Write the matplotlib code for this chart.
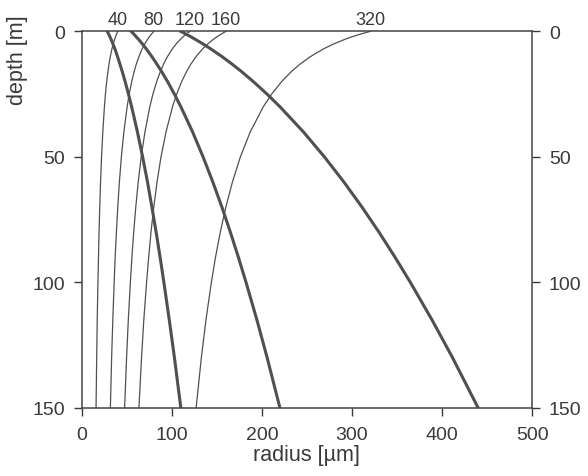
import matplotlib
matplotlib.use("Agg")
import matplotlib.pyplot as plt

plt.rcParams['font.family'] = ['Liberation Sans', 'DejaVu Sans']

depth = [0, 1, 2, 3, 5, 7, 10, 13, 16, 20, 25, 30, 40, 50, 60, 70, 80, 90, 100, 115, 130, 150]

# thin curves: radius [um] starting at 40, 80, 120, 160, 320 at the surface
r40 = [40, 38.7, 37.6, 36.7, 34.9, 33.5, 31.7, 30.3, 29.1, 27.7, 26.3, 25.2, 23.4, 22.0, 20.9, 20.0, 19.2, 18.6, 18.0, 17.2, 16.6, 15.9]
r80 = [80, 77.5, 75.3, 73.3, 69.9, 67.0, 63.5, 60.6, 58.2, 55.5, 52.7, 50.4, 46.8, 44.0, 41.8, 40.0, 38.5, 37.1, 36.0, 34.5, 33.2, 31.8]
r120 = [120, 116.2, 112.9, 110.0, 104.8, 100.5, 95.2, 90.9, 87.3, 83.2, 79.0, 75.6, 70.2, 66.0, 62.7, 60.0, 57.7, 55.7, 54.0, 51.7, 49.8, 47.6]
r160 = [160, 155.0, 150.6, 146.6, 139.8, 134.1, 127.0, 121.2, 116.4, 110.9, 105.4, 100.8, 93.6, 88.0, 83.6, 80.0, 76.9, 74.3, 72.0, 68.9, 66.4, 63.5]
r320 = [320, 310.0, 301.1, 293.2, 279.6, 268.1, 254.0, 242.4, 232.7, 221.9, 210.8, 201.6, 187.1, 176.1, 167.3, 160.0, 153.8, 148.5, 143.9, 137.9, 132.8, 127.0]
thin_curves = [r40, r80, r120, r160, r320]
thin_labels = ["40", "80", "120", "160", "320"]
thin_start = [40, 80, 120, 160, 320]

# thick curves: radius [um] growing with depth
g1 = [28.5, 29.8, 31.1, 32.4, 34.7, 36.9, 39.7, 42.4, 45.0, 48.2, 51.9, 55.4, 61.8, 67.6, 73.0, 77.9, 82.6, 87.0, 91.2, 97.2, 102.9, 110]
g2 = [55, 57.7, 60.2, 62.7, 67.4, 71.7, 77.8, 83.4, 88.7, 95.3, 102.9, 110, 123.0, 134.7, 145.5, 155.6, 165, 173.9, 182.4, 194.5, 205.8, 220]
g3 = [110, 115.4, 120.5, 125.4, 134.7, 143.4, 155.6, 166.8, 177.4, 190.5, 205.8, 220, 246.0, 269.4, 291.0, 311.1, 330, 347.8, 364.8, 388.9, 411.6, 440]
thick_curves = [g1, g2, g3]

xticks = [0, 100, 200, 300, 400, 500]
yticks = [0, 50, 100, 150]

col = '#505050'
txt = '#3a3a3a'

fig = plt.figure(figsize=(5.88, 4.77), dpi=100)
ax = fig.add_axes([0.139, 0.143, 0.766, 0.789])

for r in thin_curves:
    ax.plot(r, depth, color=col, lw=0.9)
for r in thick_curves:
    ax.plot(r, depth, color=col, lw=2.2)

for lab, x0 in zip(thin_labels, thin_start):
    ax.annotate(lab, xy=(x0, 0), xytext=(0, 2.5), textcoords='offset points',
                ha='center', va='bottom', fontsize=13, color=txt)

ax.set_xlim(0, 500)
ax.set_ylim(150, 0)
ax.set_xticks(xticks)
ax.set_yticks(yticks)
ax.tick_params(axis='both', direction='out', length=6, width=1, colors=txt,
               labelsize=14)
ax.tick_params(axis='x', pad=7)
ax.tick_params(axis='y', right=True, labelright=True, pad=6)
for s in ax.spines.values():
    s.set_color('#444444')
    s.set_linewidth(1.1)

ax.set_xlabel("radius [µm]", fontsize=15.5, color=txt, labelpad=1)
ax.set_ylabel("depth [m]", fontsize=15.5, color=txt, va='center')
ax.yaxis.set_label_coords(-0.142, 0.926)

fig.savefig("out.png", dpi=100)
